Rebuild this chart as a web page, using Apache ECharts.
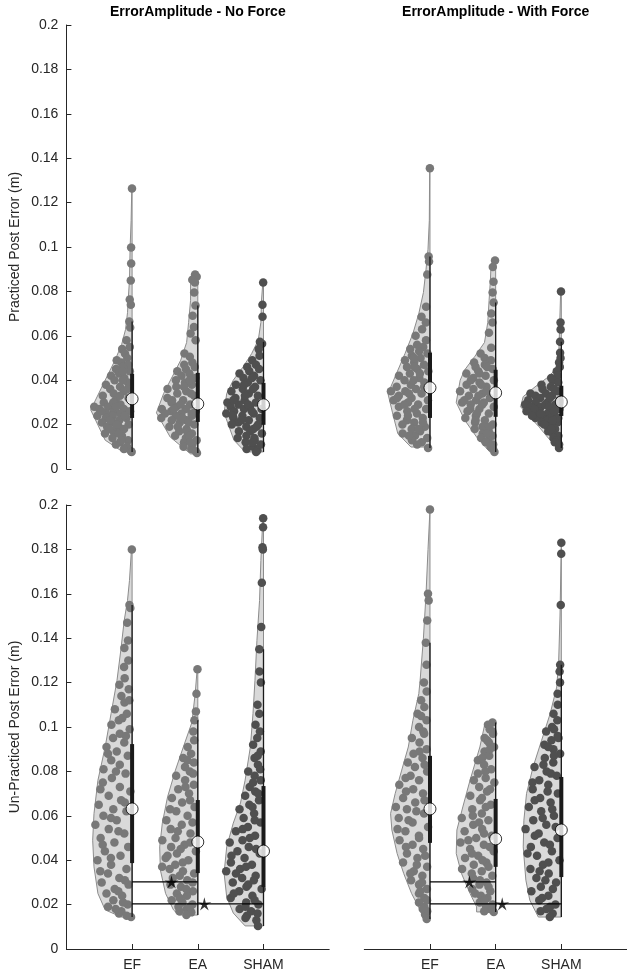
<!DOCTYPE html>
<html>
<head>
<meta charset="utf-8">
<script src="https://cdn.jsdelivr.net/npm/echarts@6/dist/echarts.min.js"></script>
<style>
html, body { margin: 0; padding: 0; background: #fff; }
#chart { width: 627px; height: 979px; }
</style>
</head>
<body>
<div id="chart"></div>
<script>
var categories = ['EF', 'EA', 'SHAM'];
var panelTitles = ['ErrorAmplitude - No Force', 'ErrorAmplitude - With Force'];
var yAxisNames = ['Practiced Post Error (m)', 'Un-Practiced Post Error (m)'];

// points: [error (m), jitter as fraction of the violin half-width]
var pracNoForceEF = [[.1264,.3],[.0998,.5],[.0926,.4],[.0849,.5],[.0763,.6],[.074,.3],[.0664,.5],[.0637,.3],[.058,.6],[.055,.2],[.054,.8],
  [.052,.5],[.050,.3],[.049,.9],[.048,.6],[.047,.2],[.046,.45],[.045,.75],[.044,.1],[.043,.55],[.042,.85],[.041,.3],[.040,.65],[.039,.15],[.038,.9],
  [.037,.4],[.036,.7],[.035,.25],[.034,.55],[.033,.85],[.032,.1],[.031,.45],[.030,.75],[.029,.3],[.028,.95],[.028,.6],[.027,.2],[.027,.8],[.026,.45],
  [.026,.05],[.025,.65],[.025,.3],[.024,.9],[.024,.5],[.023,.15],[.023,.7],[.022,.35],[.021,.85],[.021,.55],[.020,.1],[.019,.4],[.019,.75],[.018,.25],
  [.017,.6],[.016,.9],[.015,.35],[.014,.7],[.013,.15],[.012,.5],[.011,.8],[.010,.3],[.009,.6],[.008,.1],[.0077,.05],
  [.044,.4],[.040,.35],[.036,.15],[.033,.35],[.030,.5],[.028,.4],[.026,.75],[.024,.2],[.022,.6],[.020,.45],[.018,.7],[.016,.45],[.013,.4]];
var pracNoForceEA = [[.0876,.6],[.0866,.2],[.0853,.8],[.084,.4],[.0795,.5],[.0736,.3],[.069,.6],[.064,.4],[.061,.7],[.058,.2],[.0506,.5],[.052,.9],
  [.048,.3],[.047,.7],[.046,.15],[.045,.55],[.044,.9],[.043,.35],[.042,.65],[.041,.1],[.040,.8],[.039,.45],[.038,.2],[.037,.7],[.036,.95],[.035,.35],
  [.034,.6],[.033,.1],[.032,.85],[.031,.4],[.030,.7],[.029,.2],[.028,.55],[.027,.9],[.027,.3],[.026,.05],[.026,.65],[.025,.4],[.025,.8],[.024,.15],
  [.024,.55],[.023,.95],[.022,.3],[.022,.7],[.021,.5],[.020,.1],[.019,.85],[.018,.35],[.017,.6],[.016,.2],[.015,.8],[.014,.45],[.013,.05],[.012,.65],
  [.011,.3],[.010,.9],[.009,.5],[.008,.2],[.0072,.1],
  [.040,.3],[.037,.45],[.034,.2],[.031,.7],[.029,.45],[.027,.6],[.025,.15],[.023,.4],[.021,.25],[.019,.6],[.017,.35],[.015,.3],[.012,.35]];
var pracNoForceSHAM = [[.084,.5],[.074,.5],[.0686,.4],[.0573,.6],[.0564,.2],[.054,.5],[.051,.3],[.049,.7],
  [.047,.4],[.046,.8],[.045,.2],[.044,.6],[.043,.95],[.042,.35],[.041,.7],[.040,.1],[.039,.5],[.038,.85],[.037,.25],[.036,.6],[.035,.9],[.034,.4],
  [.033,.15],[.032,.75],[.031,.5],[.030,.95],[.030,.2],[.029,.65],[.028,.35],[.028,.85],[.027,.05],[.027,.5],[.026,.75],[.025,.25],[.025,.95],[.024,.55],
  [.023,.1],[.023,.8],[.022,.4],[.021,.7],[.020,.15],[.020,.9],[.019,.5],[.018,.3],[.017,.75],[.016,.05],[.015,.55],[.014,.85],[.013,.3],[.012,.65],
  [.011,.1],[.010,.45],[.009,.8],[.0085,.3],[.0077,.4],
  [.041,.4],[.038,.6],[.036,.3],[.033,.5],[.031,.8],[.029,.4],[.026,.3],[.024,.8],[.022,.6],[.019,.2],[.017,.4],[.014,.3],[.012,.4]];

var pracForceEF = [[.1355,.3],[.0957,.5],[.0935,.3],[.0876,.6],[.0731,.4],[.0686,.7],[.066,.3],[.063,.5],[.060,.8],[.058,.2],
  [.056,.6],[.055,.3],[.054,.85],[.053,.45],[.052,.1],[.051,.7],[.050,.35],[.049,.9],[.048,.55],[.047,.2],[.046,.75],[.045,.4],[.044,.05],[.043,.6],
  [.042,.9],[.041,.3],[.040,.7],[.039,.15],[.038,.5],[.037,.85],[.036,.35],[.035,.95],[.035,.6],[.034,.2],[.033,.75],[.032,.45],[.031,.05],[.031,.9],
  [.030,.55],[.029,.3],[.028,.8],[.027,.1],[.026,.6],[.025,.35],[.024,.9],[.023,.2],[.022,.65],[.021,.45],[.020,.8],[.019,.15],[.018,.55],[.017,.3],
  [.016,.85],[.015,.5],[.014,.1],[.013,.7],[.012,.35],[.011,.6],[.0095,.1],
  [.050,.6],[.046,.5],[.043,.3],[.040,.45],[.037,.15],[.034,.5],[.032,.8],[.029,.65],[.027,.4],[.024,.6],[.021,.2],[.018,.35],[.015,.7]];
var pracForceEA = [[.0939,.3],[.091,.6],[.0844,.4],[.0795,.5],[.075,.3],[.070,.6],[.066,.4],[.0614,.7],[.0546,.3],[.052,.8],
  [.050,.5],[.049,.2],[.048,.85],[.047,.4],[.046,.7],[.045,.1],[.044,.55],[.043,.9],[.042,.3],[.041,.65],[.040,.05],[.039,.45],[.038,.8],[.037,.25],
  [.036,.6],[.035,.95],[.034,.35],[.033,.7],[.032,.15],[.031,.5],[.030,.85],[.030,.3],[.029,.65],[.028,.05],[.027,.45],[.026,.8],[.025,.2],[.024,.6],
  [.023,.95],[.022,.35],[.021,.7],[.020,.1],[.019,.5],[.018,.85],[.017,.3],[.016,.6],[.015,.15],[.014,.8],[.013,.45],[.012,.7],[.011,.2],[.010,.5],
  [.009,.3],[.0077,.2],
  [.046,.3],[.043,.5],[.040,.7],[.038,.4],[.035,.25],[.033,.45],[.031,.8],[.029,.35],[.027,.7],[.025,.55],[.022,.65],[.019,.25],[.016,.4]];
var pracForceSHAM = [[.080,.5],[.066,.5],[.0628,.4],[.0573,.6],[.0524,.5],[.050,.3],[.048,.7],[.046,.4],[.044,.6],
  [.042,.3],[.041,.7],[.040,.5],[.039,.15],[.038,.85],[.037,.4],[.036,.65],[.035,.1],[.034,.9],[.034,.45],[.033,.25],[.033,.7],[.032,.55],[.031,.05],
  [.031,.85],[.030,.35],[.030,.65],[.029,.15],[.029,.9],[.028,.5],[.028,.75],[.027,.3],[.027,.05],[.026,.6],[.026,.95],[.025,.4],[.025,.8],[.024,.2],
  [.024,.6],[.023,.35],[.023,.85],[.022,.5],[.021,.15],[.021,.75],[.020,.4],[.019,.6],[.018,.3],[.017,.7],[.016,.5],[.015,.2],[.014,.6],[.013,.4],
  [.012,.7],[.011,.3],[.0095,.5],
  [.036,.25],[.032,.3],[.030,.05],[.029,.4],[.028,.3],[.027,.7],[.026,.2],[.025,.6],[.024,.9],[.023,.1],[.022,.3],[.020,.7],[.018,.5]];

var unpracNoForceEF = [[.180,.4],[.155,.5],[.1536,.3],[.147,.6],[.139,.4],[.1356,.7],[.130,.3],[.127,.6],[.122,.5],[.119,.8],[.117,.2],[.114,.6],
  [.111,.4],[.108,.85],[.106,.25],[.103,.6],[.101,.9],[.099,.1],[.097,.5],[.095,.75],[.093,.3],[.091,.95],[.089,.55],[.087,.15],[.085,.7],[.083,.4],
  [.081,.9],[.079,.2],[.077,.6],[.075,.85],[.073,.35],[.071,.05],[.069,.65],[.067,.3],[.065,.9],[.063,.5],[.062,.15],[.060,.75],[.058,.4],[.056,.95],
  [.054,.6],[.052,.2],[.050,.8],[.048,.45],[.046,.1],[.044,.7],[.042,.3],[.040,.9],[.038,.55],[.036,.15],[.034,.65],[.032,.35],[.030,.85],[.029,.1],
  [.027,.5],[.025,.75],[.024,.3],[.022,.6],[.020,.15],[.019,.85],[.017,.45],[.016,.7],[.0144,.1],
  [.112,.15],[.104,.45],[.096,.25],[.088,.85],[.080,.5],[.072,.9],[.066,.2],[.059,.55],[.053,.35],[.047,.75],[.041,.55],[.035,.85],[.031,.2],
  [.026,.4],[.021,.3],[.018,.6],[.015,.4]];
var unpracNoForceEA = [[.126,.5],[.115,.5],[.107,.4],[.103,.6],[.098,.5],[.094,.3],[.091,.7],
  [.088,.4],[.086,.8],[.084,.2],[.082,.6],[.080,.35],[.078,.9],[.076,.5],[.074,.15],[.072,.7],[.070,.3],[.068,.85],[.066,.5],[.064,.1],[.062,.65],
  [.060,.3],[.058,.9],[.056,.45],[.054,.75],[.052,.2],[.050,.6],[.049,.95],[.047,.35],[.046,.7],[.044,.05],[.043,.55],[.041,.85],[.040,.25],[.038,.6],
  [.037,.95],[.035,.4],[.034,.1],[.032,.7],[.031,.3],[.029,.8],[.028,.5],[.026,.15],[.025,.65],[.024,.35],[.022,.9],[.021,.55],[.020,.2],[.019,.75],
  [.018,.45],[.0165,.3],[.0153,.6],
  [.085,.55],[.079,.2],[.073,.45],[.067,.25],[.063,.85],[.057,.15],[.053,.55],[.048,.2],[.045,.45],[.042,.8],[.039,.4],[.036,.75],[.033,.5],
  [.030,.15],[.027,.35],[.023,.6],[.019,.3],[.017,.8]];
var unpracNoForceSHAM = [[.194,.5],[.190,.4],[.181,.5],[.180,.3],[.165,.5],[.145,.4],[.135,.6],[.125,.5],[.120,.3],[.110,.6],[.106,.4],[.101,.7],[.098,.3],
  [.095,.5],[.092,.8],[.089,.2],[.086,.6],[.083,.35],[.080,.9],[.078,.5],[.076,.15],[.073,.7],[.071,.4],[.069,.85],[.067,.2],[.065,.6],[.063,.95],
  [.061,.35],[.059,.7],[.057,.1],[.055,.5],[.053,.85],[.051,.25],[.049,.6],[.048,.95],[.046,.4],[.044,.7],[.043,.1],[.041,.5],[.039,.85],[.038,.3],
  [.036,.6],[.035,.95],[.033,.2],[.032,.55],[.030,.8],[.029,.4],[.027,.05],[.026,.65],[.024,.3],[.023,.9],[.021,.5],[.020,.15],[.018,.75],[.017,.4],
  [.015,.6],[.013,.3],[.0104,.3],
  [.087,.4],[.081,.2],[.075,.55],[.070,.25],[.064,.45],[.058,.3],[.054,.65],[.050,.4],[.045,.2],[.042,.85],[.037,.45],[.034,.7],[.031,.25],
  [.028,.45],[.025,.8],[.022,.25],[.019,.55],[.016,.2],[.014,.7]];

var unpracForceEF = [[.198,.5],[.160,.5],[.157,.3],[.148,.5],[.138,.6],[.128,.4],[.120,.6],[.116,.3],[.112,.7],
  [.109,.4],[.106,.8],[.103,.2],[.100,.6],[.098,.35],[.095,.9],[.093,.5],[.090,.15],[.088,.7],[.086,.3],[.084,.85],[.082,.55],[.080,.1],[.078,.65],
  [.076,.35],[.074,.95],[.072,.5],[.070,.2],[.068,.75],[.066,.4],[.064,.9],[.063,.6],[.061,.15],[.059,.8],[.057,.45],[.055,.05],[.053,.65],[.051,.3],
  [.049,.85],[.047,.5],[.045,.2],[.043,.7],[.041,.4],[.039,.9],[.037,.1],[.035,.6],[.033,.3],[.031,.8],[.029,.5],[.027,.15],[.025,.6],[.023,.35],
  [.021,.8],[.019,.5],[.017,.3],[.0155,.6],[.0135,.5],
  [.105,.55],[.097,.3],[.089,.45],[.083,.2],[.077,.8],[.071,.7],[.067,.15],[.062,.35],[.058,.55],[.054,.85],[.050,.3],[.046,.7],[.042,.15],
  [.038,.45],[.034,.75],[.030,.35],[.026,.5],[.022,.2],[.018,.7]];
var unpracForceEA = [[.102,.3],[.101,.7],[.099,.5],[.097,.2],[.095,.8],[.093,.45],[.091,.1],[.089,.65],[.087,.35],[.085,.9],[.083,.55],[.081,.2],
  [.079,.75],[.077,.4],[.075,.05],[.073,.6],[.071,.3],[.069,.85],[.067,.5],[.065,.15],[.063,.7],[.061,.4],[.059,.95],[.058,.2],[.056,.6],[.054,.35],
  [.053,.8],[.051,.1],[.050,.5],[.048,.9],[.047,.3],[.045,.65],[.044,.05],[.042,.45],[.041,.8],[.039,.25],[.038,.6],[.036,.95],[.035,.4],[.033,.1],
  [.032,.7],[.030,.3],[.029,.55],[.027,.85],[.026,.2],[.024,.6],[.023,.35],[.021,.75],[.020,.15],[.019,.5],[.018,.3],[.017,.6],[.0167,.1],
  [.098,.25],[.094,.6],[.090,.35],[.086,.7],[.080,.45],[.076,.85],[.072,.2],[.068,.45],[.064,.3],[.060,.65],[.057,.45],[.052,.3],[.049,.7],
  [.046,.15],[.043,.6],[.040,.35],[.037,.2],[.034,.7],[.031,.5],[.028,.25],[.025,.8],[.022,.5]];
var unpracForceSHAM = [[.183,.5],[.178,.5],[.155,.5],[.128,.4],[.125,.5],[.120,.3],[.115,.6],[.110,.4],[.106,.7],
  [.103,.3],[.100,.6],[.098,.9],[.096,.2],[.094,.5],[.092,.8],[.090,.35],[.088,.05],[.086,.65],[.084,.3],[.082,.95],[.080,.5],[.078,.15],[.076,.7],
  [.074,.4],[.072,.85],[.070,.1],[.068,.6],[.066,.3],[.064,.9],[.062,.55],[.060,.2],[.058,.75],[.056,.4],[.054,.95],[.052,.6],[.050,.1],[.048,.45],
  [.046,.8],[.044,.25],[.042,.65],[.040,.05],[.038,.5],[.036,.85],[.034,.35],[.032,.7],[.030,.15],[.028,.6],[.026,.9],[.024,.4],[.022,.7],[.020,.2],
  [.018,.55],[.016,.35],[.0144,.5],
  [.099,.45],[.095,.15],[.091,.6],[.087,.3],[.083,.65],[.079,.35],[.075,.9],[.071,.4],[.067,.75],[.063,.25],[.059,.5],[.055,.15],[.051,.7],
  [.047,.3],[.043,.9],[.039,.35],[.035,.6],[.031,.45],[.027,.25],[.023,.6],[.019,.4],[.017,.8]];

// violin outlines: [error (m), half-width in category units]
var violinPracNoForceEF = [[.0077,.14],[.013,.41],[.0266,.63],[.040,.41],[.049,.26],[.056,.16],[.0628,.1],[.0704,.07],[.076,.06],[.085,.04],[.100,.03],[.112,.015],[.1264,.005]];
var violinPracNoForceEA = [[.0068,.11],[.0144,.42],[.0253,.63],[.034,.52],[.0415,.39],[.049,.26],[.057,.17],[.066,.14],[.076,.11],[.085,.11],[.0876,.07],[.089,0]];
var violinPracNoForceSHAM = [[.0077,.28],[.013,.45],[.0253,.6],[.034,.56],[.040,.46],[.046,.31],[.052,.18],[.058,.08],[.066,.04],[.076,.03],[.084,.01]];
var violinPracForceEF = [[.0099,.29],[.016,.49],[.0253,.57],[.034,.64],[.043,.51],[.052,.38],[.061,.26],[.070,.17],[.0795,.1],[.090,.06],[.099,.03],[.112,.01],[.1355,.005]];
var violinPracForceEA = [[.0077,.09],[.0144,.29],[.022,.47],[.030,.6],[.040,.54],[.0447,.47],[.0506,.32],[.057,.17],[.066,.12],[.076,.1],[.085,.08],[.092,.07],[.094,.03]];
var violinPracForceSHAM = [[.0095,.07],[.014,.2],[.019,.34],[.0235,.48],[.028,.62],[.0326,.58],[.037,.4],[.041,.22],[.0456,.06],[.050,.04],[.065,.025],[.080,.01]];
var violinUnpracNoForceEF = [[.0144,.16],[.0176,.41],[.025,.52],[.037,.58],[.049,.6],[.061,.58],[.076,.52],[.091,.41],[.106,.32],[.121,.23],[.135,.17],[.148,.12],[.157,.07],[.166,.04],[.180,.01]];
var violinUnpracNoForceEA = [[.0153,.29],[.0176,.37],[.025,.49],[.0356,.57],[.046,.58],[.0567,.54],[.0685,.46],[.0806,.34],[.091,.22],[.102,.09],[.115,.04],[.126,.01]];
var violinUnpracNoForceSHAM = [[.0104,.28],[.0162,.46],[.0234,.56],[.0342,.6],[.046,.56],[.0567,.46],[.0658,.35],[.076,.28],[.091,.2],[.106,.16],[.121,.13],[.139,.1],[.157,.06],[.175,.04],[.194,.01]];
var violinUnpracForceEF = [[.0135,.1],[.0176,.15],[.025,.28],[.034,.4],[.043,.5],[.0536,.58],[.061,.6],[.070,.53],[.0806,.43],[.091,.33],[.103,.26],[.115,.17],[.121,.15],[.140,.1],[.160,.06],[.180,.03],[.198,0]];
var violinUnpracForceEA = [[.0167,.29],[.019,.29],[.025,.39],[.034,.52],[.043,.6],[.0536,.59],[.064,.5],[.076,.39],[.091,.24],[.102,.16]];
var violinUnpracForceSHAM = [[.0144,.35],[.022,.48],[.031,.54],[.046,.58],[.058,.57],[.070,.53],[.082,.43],[.094,.3],[.106,.17],[.118,.07],[.130,.04],[.150,.02],[.183,0]];

// box summaries per category: [lower whisker, q1, median, q3, upper whisker]
var boxPracNoForce = [[.0077,.023,.0316,.0429,.0664],[.0072,.0212,.0293,.0433,.0736],[.0077,.0199,.0289,.0388,.0573]];
var boxPracForce = [[.0095,.023,.0366,.0524,.0957],[.0077,.0235,.0343,.0447,.075],[.0095,.0239,.0302,.0375,.0573]];
var boxUnpracNoForce = [[.0144,.0387,.0631,.0923,.155],[.0153,.0342,.0482,.0671,.103],[.0104,.0279,.0441,.0734,.135]];
var boxUnpracForce = [[.0135,.0478,.0631,.087,.138],[.0167,.037,.0496,.0676,.102],[.0144,.0324,.0536,.0775,.128]];

// significance bars: [from category, to category, error (m), star position]
var sigUnpracNoForce = [[1, 2, .0302, 1.6], [1, 3, .0203, 2.1]];
var sigUnpracForce = [[1, 2, .0302, 1.6], [1, 3, .0203, 2.1]];

var groupColors = ['#787878', '#787878', '#4f4f4f'];
var starPath = 'path://M0,-10 L1.88,-2.59 L9.51,-3.09 L3.04,0.99 L5.88,8.09 L0,3.2 L-5.88,8.09 L-3.04,0.99 L-9.51,-3.09 L-1.88,-2.59 Z';
var FONT = 'Liberation Sans, Arial, Helvetica, sans-serif';

var panels = [
  { points: [pracNoForceEF, pracNoForceEA, pracNoForceSHAM], violins: [violinPracNoForceEF, violinPracNoForceEA, violinPracNoForceSHAM], box: boxPracNoForce, sig: [] },
  { points: [pracForceEF, pracForceEA, pracForceSHAM], violins: [violinPracForceEF, violinPracForceEA, violinPracForceSHAM], box: boxPracForce, sig: [] },
  { points: [unpracNoForceEF, unpracNoForceEA, unpracNoForceSHAM], violins: [violinUnpracNoForceEF, violinUnpracNoForceEA, violinUnpracNoForceSHAM], box: boxUnpracNoForce, sig: sigUnpracNoForce },
  { points: [unpracForceEF, unpracForceEA, unpracForceSHAM], violins: [violinUnpracForceEF, violinUnpracForceEA, violinUnpracForceSHAM], box: boxUnpracForce, sig: sigUnpracForce }
];

function widthAt(outline, v) {
  if (v <= outline[0][0]) return outline[0][1];
  for (var i = 1; i < outline.length; i++) {
    if (v <= outline[i][0]) {
      var a = outline[i - 1], b = outline[i];
      return a[1] + (b[1] - a[1]) * (v - a[0]) / (b[0] - a[0]);
    }
  }
  return outline[outline.length - 1][1];
}

var grids = [
  { left: 66.4, top: 25, width: 262.8, height: 444 },
  { left: 364.3, top: 25, width: 262.8, height: 444 },
  { left: 66.4, top: 505, width: 262.8, height: 444 },
  { left: 364.3, top: 505, width: 262.8, height: 444 }
];

var xAxes = [], yAxes = [], series = [];
grids.forEach(function (g, i) {
  var showX = i >= 2, showY = i % 2 === 0;
  xAxes.push({
    type: 'value', gridIndex: i, min: 0, max: 4, interval: 1,
    axisLine: { show: showX, onZero: false, lineStyle: { color: '#262626', width: 1 } },
    axisTick: { show: showX, inside: true, length: 5, customValues: [1, 2, 3], lineStyle: { color: '#262626' } },
    axisLabel: { show: showX, customValues: [1, 2, 3], margin: 9, fontSize: 14, color: '#262626', fontFamily: FONT,
      formatter: function (v) { return categories[v - 1] || ''; } },
    splitLine: { show: false }
  });
  yAxes.push({
    type: 'value', gridIndex: i, min: 0, max: 0.2, interval: 0.02,
    name: showY ? yAxisNames[i >> 1] : '', nameLocation: 'middle', nameGap: 44,
    nameTextStyle: { fontSize: 14, color: '#262626', fontFamily: FONT },
    axisLine: { show: showY, lineStyle: { color: '#262626', width: 1 } },
    axisTick: { show: showY, inside: true, length: 5, lineStyle: { color: '#262626' } },
    axisLabel: { show: showY, margin: 8, fontSize: 14, color: '#262626', fontFamily: FONT },
    splitLine: { show: false }
  });

  var p = panels[i];
  // half violins
  series.push({
    type: 'custom', xAxisIndex: i, yAxisIndex: i, z: 1, silent: true,
    data: [[1, 0], [2, 0], [3, 0]],
    renderItem: function (params, api) {
      var c = params.dataIndex + 1;
      var outline = p.violins[params.dataIndex];
      var pts = outline.map(function (d) { return api.coord([c - d[1], d[0]]); });
      pts.push(api.coord([c, outline[outline.length - 1][0]]));
      pts.push(api.coord([c, outline[0][0]]));
      return { type: 'polygon', shape: { points: pts }, style: { fill: '#d9d9d9', stroke: '#8c8c8c', lineWidth: 1 } };
    }
  });
  // jittered points
  p.points.forEach(function (pts, k) {
    series.push({
      type: 'scatter', xAxisIndex: i, yAxisIndex: i, z: 2, silent: true,
      symbolSize: 8.5, itemStyle: { color: groupColors[k], opacity: 1 },
      data: pts.map(function (d) { return [k + 1 - d[1] * widthAt(p.violins[k], d[0]), d[0]]; })
    });
  });
  // box: whisker + IQR bar
  series.push({
    type: 'custom', xAxisIndex: i, yAxisIndex: i, z: 3, silent: true,
    data: p.box.map(function (b, k) { return [k + 1, b[2]]; }),
    renderItem: function (params, api) {
      var c = params.dataIndex + 1, b = p.box[params.dataIndex];
      var lo = api.coord([c, b[0]]), hi = api.coord([c, b[4]]);
      var q1 = api.coord([c, b[1]]), q3 = api.coord([c, b[3]]);
      return { type: 'group', children: [
        { type: 'line', shape: { x1: lo[0], y1: lo[1], x2: hi[0], y2: hi[1] }, style: { stroke: '#1a1a1a', lineWidth: 1.3 } },
        { type: 'line', shape: { x1: q1[0], y1: q1[1], x2: q3[0], y2: q3[1] }, style: { stroke: '#1a1a1a', lineWidth: 4 } }
      ] };
    }
  });
  // significance bars
  p.sig.forEach(function (s) {
    series.push({
      type: 'line', xAxisIndex: i, yAxisIndex: i, z: 4, silent: true, symbol: 'none',
      lineStyle: { color: '#000', width: 1.2 },
      data: [[s[0], s[2]], [s[1], s[2]]]
    });
  });
  if (p.sig.length) {
    series.push({
      type: 'scatter', xAxisIndex: i, yAxisIndex: i, z: 6, silent: true,
      symbol: starPath, symbolSize: 14, symbolKeepAspect: true, itemStyle: { color: '#000' },
      data: p.sig.map(function (s) { return [s[3], s[2]]; })
    });
  }
  // medians
  series.push({
    type: 'scatter', xAxisIndex: i, yAxisIndex: i, z: 5, silent: true,
    symbolSize: 12, itemStyle: { color: '#fff', borderColor: '#000', borderWidth: 1 },
    data: p.box.map(function (b, k) { return [k + 1, b[2]]; })
  });
});

var chart = echarts.init(document.getElementById('chart'));
chart.setOption({
  animation: false,
  backgroundColor: '#fff',
  textStyle: { fontFamily: FONT },
  grid: grids,
  xAxis: xAxes,
  yAxis: yAxes,
  graphic: panelTitles.map(function (t, i) {
    return {
      type: 'text', x: [197.8, 495.7][i], y: 12,
      style: { text: t, fontSize: 14, fontWeight: 'bold', fill: '#000', font: 'bold 14px ' + FONT, align: 'center', verticalAlign: 'middle' }
    };
  }),
  series: series
});
</script>
</body>
</html>
